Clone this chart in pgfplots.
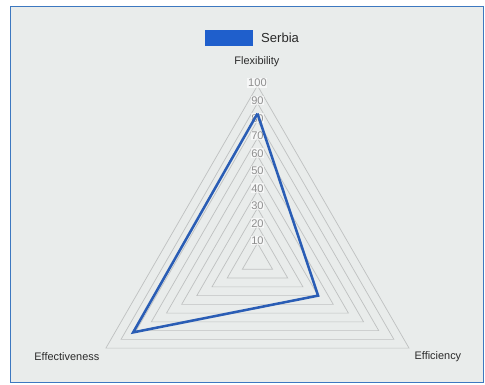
\documentclass[border=0pt]{standalone}
\usepackage{fontspec}
\setmainfont{Liberation Sans}
\usepackage{pgfplots}
\pgfplotsset{compat=1.18}
\definecolor{bgGray}{HTML}{E9ECEB}
\definecolor{frameBlue}{HTML}{3D78C0}
\definecolor{gridGray}{HTML}{C0C2C2}
\definecolor{serbiaBlue}{HTML}{2A5DB5}
\definecolor{legendBlue}{HTML}{1F5FCC}
\definecolor{tickGray}{HTML}{8E8E8E}
\definecolor{labelDark}{HTML}{2A2A2A}

\begin{document}
\begin{tikzpicture}
  \begin{axis}[
    hide axis,
    x=1.3125pt, y=1.3125pt,
    xmin=-147.1, xmax=130.0,
    ymin=-70.6, ymax=148.9,
    clip=false,
  ]
    % page and panel background
    \fill[white] (axis cs:-147.1,-70.6) rectangle (axis cs:130.0,148.9);
    \filldraw[fill=bgGray, draw=frameBlue, line width=0.8pt]
      (axis cs:-141.0,-69.4) rectangle (axis cs:128.9,145.4);

    % triangular grid, 10 to 100
    \pgfplotsinvokeforeach{10,20,30,40,50,60,70,80,90,100}{
      \addplot[gridGray, line width=0.55pt, data cs=polar]
        coordinates {(90,#1) (210,#1) (330,#1) (90,#1)};
    }

    % scale labels on the Flexibility spoke
    \pgfplotsinvokeforeach{10,20,30,40,50,60,70,80,90,100}{
      \node[font=\fontsize{8.3}{9}\selectfont, text=tickGray, fill=white,
        fill opacity=0.6, text opacity=1, inner sep=0.6pt, yshift=1.8pt]
        at (axis cs:0,#1) {#1};
    }

    % Serbia: Flexibility, Efficiency, Effectiveness
    \addplot[serbiaBlue, line width=1.9pt, line join=miter, data cs=polar]
      coordinates {(90,84) (330,40) (210,82) (90,84)};

    % axis names
    \node[font=\fontsize{8.2}{9}\selectfont, text=labelDark]
      at (axis cs:-0.3,113.4) {Flexibility};
    \node[font=\fontsize{8.2}{9}\selectfont, text=labelDark]
      at (axis cs:-108.9,-55.1) {Effectiveness};
    \node[font=\fontsize{8.2}{9}\selectfont, text=labelDark]
      at (axis cs:103.1,-55.1) {Efficiency};

    % legend
    \fill[legendBlue] (axis cs:-30.0,122.6) rectangle (axis cs:-2.6,131.7);
    \node[font=\fontsize{9.8}{11}\selectfont, text=labelDark, anchor=west, inner sep=0pt]
      at (axis cs:2.0,127.4) {Serbia};
  \end{axis}
\end{tikzpicture}
\end{document}
